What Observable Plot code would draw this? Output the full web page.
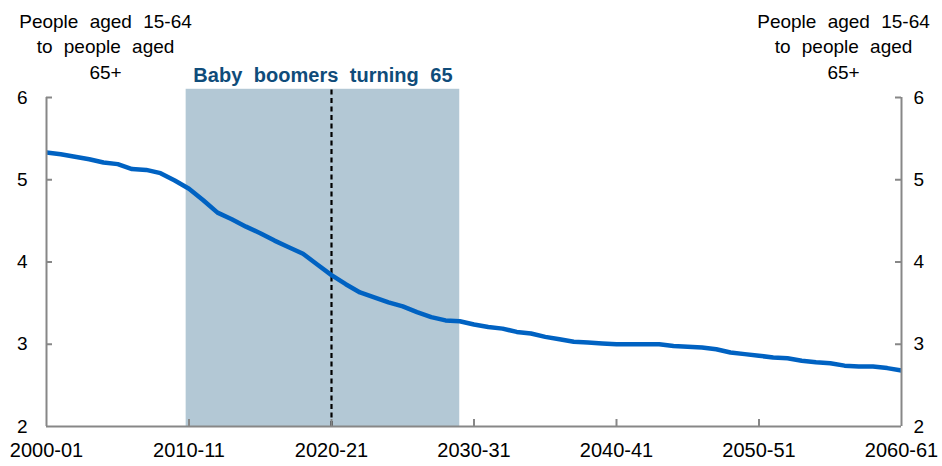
<!DOCTYPE html>
<html>
<head>
<meta charset="utf-8">
<script src="https://cdn.jsdelivr.net/npm/d3@7"></script>
<script src="https://cdn.jsdelivr.net/npm/@observablehq/plot@0.6"></script>
<style>
  html, body { margin: 0; padding: 0; background: #fff; }
  #chart svg { display: block; }
  #chart svg text { word-spacing: 6px; }
</style>
</head>
<body>
<div id="chart"></div>
<script>
// Financial year start (2000 = 2000-01)
const years = d3.range(2000, 2061);
// Ratio of people aged 15-64 to people aged 65+
const ratio = [
  5.33, 5.31, 5.28, 5.25, 5.21, 5.19, 5.13, 5.12, 5.08, 4.99,
  4.89, 4.75, 4.60, 4.52, 4.43, 4.35, 4.26, 4.18, 4.10, 3.97,
  3.84, 3.73, 3.63, 3.57, 3.51, 3.46, 3.39, 3.33, 3.29, 3.28,
  3.24, 3.21, 3.19, 3.15, 3.13, 3.09, 3.06, 3.03, 3.02, 3.01,
  3.00, 3.00, 3.00, 3.00, 2.98, 2.97, 2.96, 2.94, 2.90, 2.88,
  2.86, 2.84, 2.83, 2.80, 2.78, 2.77, 2.74, 2.73, 2.73, 2.71,
  2.68
];
const xTicks = [2000, 2010, 2020, 2030, 2040, 2050, 2060];
const xTickLabels = ["2000-01", "2010-11", "2020-21", "2030-31", "2040-41", "2050-51", "2060-61"];
const yTicks = [2, 3, 4, 5, 6];
const innerYTicks = [3, 4, 5, 6];
const innerXTicks = [2010, 2020, 2030, 2040, 2050];

// Shaded period: baby boomers turning 65
const shadeStart = [2009.8];
const shadeEnd = [2029.0];
const shadeTop = [6.1];
const markerYear = [2020];
const shadeLabel = ["Baby boomers turning 65"];
const axisTitle = "People aged 15-64\nto people aged\n65+";

const data = years.map((y, i) => ({year: y, value: ratio[i]}));
const shade = shadeStart.map((s, i) => ({x1: s, x2: shadeEnd[i], y1: 2, y2: shadeTop[i]}));

const AXIS = "#878787";
const FONT = "Liberation Sans, Arial, sans-serif";
const xMin = xTicks[0], xMax = xTicks[xTicks.length - 1], yMin = yTicks[0];

const chart = Plot.plot({
  width: 942,
  height: 466,
  marginLeft: 46,
  marginRight: 41,
  marginTop: 97,
  marginBottom: 40,
  style: {fontFamily: FONT, fontSize: "19px", color: "#000", background: "#fff", overflow: "visible"},
  x: {domain: [xMin, xMax]},
  y: {domain: [2, 6]},
  marks: [
    Plot.rect(shade, {x1: "x1", x2: "x2", y1: "y1", y2: "y2", fill: "#b3c8d5", clip: false}),
    Plot.ruleX(markerYear, {x: d => d, y1: yMin, y2: shadeTop[0], stroke: "#000", strokeWidth: 2.2, strokeDasharray: "5,3.5", clip: false}),
    Plot.text(shadeLabel, {
      x: () => (shadeStart[0] + shadeEnd[0]) / 2, frameAnchor: "top", dy: -30,
      text: d => d, fill: "#0f4c7a", fontWeight: "bold", fontSize: 20, textAnchor: "middle"
    }),
    Plot.line(data, {x: "year", y: "value", stroke: "#0062c2", strokeWidth: 4.5, strokeLinejoin: "round", strokeLinecap: "butt"}),
    // axis lines
    Plot.ruleX([xMin, xMax], {stroke: AXIS, strokeWidth: 2}),
    Plot.ruleY([yMin], {stroke: AXIS, strokeWidth: 2}),
    // inward tick marks
    Plot.ruleY(innerYTicks, {y: d => d, x1: () => xMin, x2: () => xMin, insetRight: -6, stroke: AXIS, strokeWidth: 2}),
    Plot.ruleY(innerYTicks, {y: d => d, x1: () => xMax, x2: () => xMax, insetLeft: -6, stroke: AXIS, strokeWidth: 2}),
    Plot.ruleX(innerXTicks, {x: d => d, y1: () => yMin, y2: () => yMin, insetTop: -7, stroke: AXIS, strokeWidth: 2}),
    // tick labels
    Plot.axisY({anchor: "left", ticks: yTicks, tickFormat: d => String(d), tickSize: 0, tickPadding: 19, label: null, fontSize: 19}),
    Plot.axisY({anchor: "right", ticks: yTicks, tickFormat: d => String(d), tickSize: 0, tickPadding: 12, label: null, fontSize: 19}),
    Plot.axisX({anchor: "bottom", ticks: xTicks, tickSize: 0, tickPadding: 16, label: null, fontSize: 20,
      tickFormat: d => xTickLabels[xTicks.indexOf(d)]}),
    // axis titles
    Plot.text([axisTitle], {frameAnchor: "top-left", dx: 59, dy: -88, text: d => d, textAnchor: "middle", lineAnchor: "top", lineHeight: 1.35, fontSize: 19, fill: "#000"}),
    Plot.text([axisTitle], {frameAnchor: "top-right", dx: -58, dy: -88, text: d => d, textAnchor: "middle", lineAnchor: "top", lineHeight: 1.35, fontSize: 19, fill: "#000"})
  ]
});
document.getElementById("chart").appendChild(chart);
</script>
</body>
</html>
